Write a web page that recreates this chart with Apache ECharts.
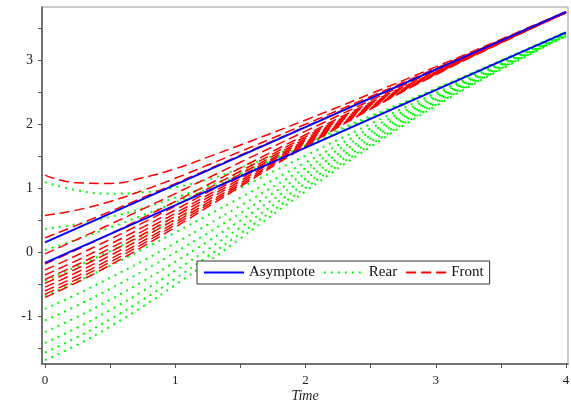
<!DOCTYPE html>
<html><head><meta charset="utf-8">
<script src="https://cdn.jsdelivr.net/npm/echarts@6/dist/echarts.min.js"></script>
<style>html,body{margin:0;padding:0;background:#fff}#c{width:571px;height:401px}</style>
</head><body><div id="c"></div>
<script>
const times = [0,0.25,0.5,0.75,1,1.25,1.5,2,2.5,3,3.5,4];
const asymTimes = [0,4];
const upperAsym = [0.16,3.76];
const lowerAsym = [-0.16,3.44];

const front1 = [1.21,1.09,1.08,1.17,1.31,1.49,1.68,2.07,2.48,2.90,3.33,3.765];
const front2 = [0.58,0.667,0.798,0.969,1.16,1.367,1.578,2.004,2.438,2.876,3.318,3.762];
const front3 = [0.23,0.432,0.641,0.857,1.077,1.299,1.521,1.967,2.415,2.863,3.311,3.760];
const front4 = [-0.02,0.208,0.441,0.679,0.921,1.165,1.410,1.896,2.375,2.843,3.303,3.757];
const front5 = [-0.18,0.05,0.291,0.541,0.798,1.059,1.321,1.84,2.343,2.827,3.296,3.755];
const front6 = [-0.27,-0.038,0.207,0.463,0.728,0.999,1.27,1.808,2.325,2.819,3.292,3.753];
const front7 = [-0.35,-0.117,0.132,0.394,0.667,0.945,1.226,1.78,2.31,2.811,3.289,3.752];
const front8 = [-0.42,-0.186,0.067,0.334,0.613,0.899,1.187,1.755,2.296,2.804,3.286,3.751];
const front9 = [-0.48,-0.245,0.01,0.282,0.567,0.859,1.154,1.734,2.284,2.799,3.284,3.75];
const front10 = [-0.54,-0.304,-0.046,0.23,0.52,0.819,1.12,1.713,2.272,2.793,3.281,3.749];
const front11 = [-0.60,-0.363,-0.102,0.178,0.474,0.779,1.087,1.692,2.26,2.787,3.279,3.748];
const front12 = [-0.65,-0.412,-0.149,0.135,0.435,0.746,1.059,1.674,2.25,2.782,3.277,3.747];
const front13 = [-0.70,-0.461,-0.196,0.092,0.397,0.712,1.031,1.656,2.241,2.777,3.275,3.746];

const rear1 = [1.10,0.97,0.92,0.94,1.02,1.14,1.32,1.715,2.13,2.56,3.0,3.445];
const rear2 = [0.37,0.446,0.555,0.694,0.858,1.039,1.245,1.672,2.107,2.548,2.994,3.442];
const rear3 = [0.04,0.209,0.39,0.582,0.784,0.993,1.211,1.652,2.096,2.543,2.992,3.441];
const rear4 = [-0.44,-0.212,0.024,0.265,0.511,0.76,1.011,1.514,2.01,2.494,2.966,3.429];
const rear5 = [-0.68,-0.449,-0.205,0.05,0.314,0.584,0.858,1.407,1.941,2.454,2.945,3.419];
const rear6 = [-0.88,-0.646,-0.395,-0.129,0.15,0.438,0.731,1.317,1.883,2.421,2.928,3.41];
const rear7 = [-1.06,-0.824,-0.566,-0.29,0.003,0.306,0.616,1.236,1.832,2.391,2.913,3.403];
const rear8 = [-1.24,-1.002,-0.737,-0.451,-0.145,0.174,0.501,1.155,1.78,2.362,2.897,3.396];
const rear9 = [-1.41,-1.17,-0.899,-0.603,-0.284,0.05,0.392,1.079,1.731,2.334,2.882,3.389];
const rear10 = [-1.56,-1.318,-1.041,-0.737,-0.407,-0.06,0.297,1.011,1.688,2.309,2.87,3.383];
const rear11 = [-1.68,-1.437,-1.156,-0.844,-0.505,-0.148,0.22,0.958,1.654,2.289,2.859,3.378];

const xLabelValues = [0,1,2,3,4];
const xTickValues = [0,0.5,1,1.5,2,2.5,3,3.5,4];
const yLabelValues = [-1,0,1,2,3];
const yTickValues = [-1.5,-1,-0.5,0,0.5,1,1.5,2,2.5,3,3.5];

const frontCurves = [front1,front2,front3,front4,front5,front6,front7,front8,front9,front10,front11,front12,front13];
const rearCurves = [rear1,rear2,rear3,rear4,rear5,rear6,rear7,rear8,rear9,rear10,rear11];

function pairs(xs, ys){ return xs.map((x,i)=>[x, ys[i]]); }

const FONT = '"Liberation Serif","DejaVu Serif",serif';
const series = [];
rearCurves.forEach(c => series.push({
  name:'Rear', type:'line', data:pairs(times,c), smooth:0.5,
  symbol:'none', showSymbol:false, silent:true,
  itemStyle:{color:'#00ff00', opacity:0},
  lineStyle:{color:'#00ff00', width:2, type:[2,5]}
}));
frontCurves.forEach(c => series.push({
  name:'Front', type:'line', data:pairs(times,c), smooth:0.5,
  symbol:'none', showSymbol:false, silent:true,
  itemStyle:{color:'#ff0000', opacity:0},
  lineStyle:{color:'#ff0000', width:1.5, type:[10,5]}
}));
[upperAsym, lowerAsym].forEach(c => series.push({
  name:'Asymptote', type:'line', data:pairs(asymTimes,c),
  symbol:'none', showSymbol:false, silent:true,
  itemStyle:{color:'#0000ff', opacity:0},
  lineStyle:{color:'#0000ff', width:2, type:'solid'}
}));

const chart = echarts.init(document.getElementById('c'), null, {renderer:'canvas'});
chart.setOption({
  animation:false,
  backgroundColor:'#fff',
  grid:{left:42, right:3, top:7, bottom:37, outerBoundsMode:'none', containLabel:false,
        show:true, borderColor:'#999', borderWidth:1, backgroundColor:'transparent'},
  legend:{
    data:['Asymptote','Rear','Front'], left:197, top:261, orient:'horizontal',
    itemWidth:40, itemHeight:10, itemGap:8,
    itemStyle:{opacity:0},
    borderColor:'#333', borderWidth:1, backgroundColor:'#fff', padding:[4,6],
    textStyle:{fontFamily:FONT, fontSize:15, color:'#111'}
  },
  xAxis:{
    type:'value', min:-0.023, max:4.015,
    axisLine:{onZero:false, lineStyle:{color:'#555', width:1.5}},
    axisTick:{customValues:xTickValues, length:4, lineStyle:{color:'#555'}},
    axisLabel:{customValues:xLabelValues, margin:10, fontFamily:FONT, fontSize:13, color:'#222'},
    splitLine:{show:false},
    name:'Time', nameLocation:'middle', nameGap:25, nameMoveOverlap:false,
    nameTextStyle:{fontFamily:FONT, fontSize:14, fontStyle:'italic', color:'#222', verticalAlign:'top'}
  },
  yAxis:{
    type:'value', min:-1.74, max:3.835,
    axisLine:{onZero:false, lineStyle:{color:'#555', width:1.5}},
    axisTick:{customValues:yTickValues, length:4, lineStyle:{color:'#555'}},
    axisLabel:{customValues:yLabelValues, margin:9, fontFamily:FONT, fontSize:14, color:'#222'},
    splitLine:{show:false}
  },
  series:series
});
</script></body></html>
